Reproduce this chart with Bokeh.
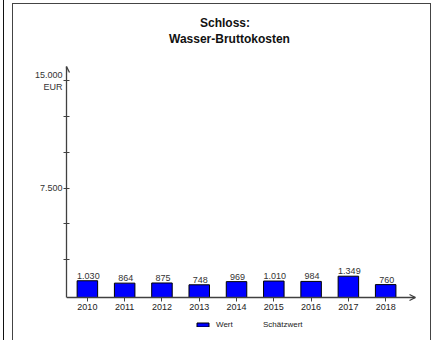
from bokeh.plotting import figure
from bokeh.models import (Range1d, FixedTicker, Legend, LegendItem, Arrow, OpenHead,
                          LabelSet, Label, ColumnDataSource, InlineStyleSheet)
from bokeh.core.properties import value
from bokeh.embed import file_html
from bokeh.resources import INLINE

# ---- data ----
years = [2010, 2011, 2012, 2013, 2014, 2015, 2016, 2017, 2018]
values = [1030, 864, 875, 748, 969, 1010, 984, 1349, 760]
estimates_years = []
estimates_values = []
y_ticks = [2500, 5000, 7500, 10000, 12500, 15000]
y_labels = {7500: "7.500", 15000: "15.000\n\u00a0\u00a0\u00a0EUR"}
title_line1 = "Schloss:"
title_line2 = "Wasser-Bruttokosten"

FONT = "Liberation Sans"
AX = "#404040"

# layout (pixels)
W, H = 435, 340
LEFT, RIGHT = 66, 20
AXIS_TOP_PX, AXIS_BOTTOM_PX = 66, 297      # where 16000 and -140 sit
x0, x1 = 2009.44, 2018.8
ya0, ya1 = -140, 16000
ppu = (AXIS_BOTTOM_PX - AXIS_TOP_PX) / (ya1 - ya0)
r_top = ya1 + AXIS_TOP_PX / ppu
r_bot = ya0 - (H - AXIS_BOTTOM_PX) / ppu
fw = W - LEFT - RIGHT
xppu = fw / (x1 - x0)

def px_to_x(px):
    return x0 + (px - LEFT) / xppu

def px_to_y(py):
    return r_top - py / ppu

p = figure(frame_width=fw, frame_height=H, output_backend="svg", toolbar_location=None,
           title=None, x_range=Range1d(x0, x1), y_range=Range1d(r_bot, r_top),
           min_border_left=LEFT, min_border_right=RIGHT, min_border_top=0,
           min_border_bottom=0)
p.outline_line_color = None
p.xgrid.visible = False
p.ygrid.visible = False
p.background_fill_color = "white"
p.border_fill_color = "white"

# panel frame lines (decoration of the surrounding page)
p.stylesheets = [InlineStyleSheet(css="""
:host { position: relative; }
:host::before { content: ""; position: absolute; left: 12px; top: 3px; width: 419px;
  height: 400px; box-sizing: border-box; border: 1.5px solid #444444;
  pointer-events: none; z-index: 5; }
:host::after { content: ""; position: absolute; left: 3px; top: 0px; width: 0px;
  height: 400px; border-left: 1px solid #111111; pointer-events: none; z-index: 5; }
""")]

# titles
for txt, cx, cy in ((title_line1, 224.5, 22), (title_line2, 229, 38)):
    p.add_layout(Label(x=px_to_x(cx), y=px_to_y(cy), text=txt, text_align="center",
                       text_baseline="middle", text_font=FONT, text_font_size="12px",
                       text_font_style="bold", text_color="#111111"))

# bars
src = ColumnDataSource(dict(x=years, top=values,
                            lab=[f"{v:,}".replace(",", ".") for v in values]))
bars = p.vbar(x="x", top="top", bottom=ya0, width=0.55, source=src,
              fill_color="#0000FF", line_color="black", line_width=1)
est = p.vbar(x=estimates_years, top=estimates_values, width=0.55,
             fill_color="#c8d4ff", line_color="#222222", line_width=1)

labels = LabelSet(x="x", y="top", text="lab", source=src, text_align="center",
                  text_baseline="bottom", y_offset=2, x_offset=1,
                  text_font=value(FONT), text_font_size=value("9px"),
                  text_color="#333333")
p.add_layout(labels)

# axes
xa = p.xaxis[0]
xa.fixed_location = ya0
xa.ticker = FixedTicker(ticks=years)
xa.major_label_overrides = {y: str(y) for y in years}
xa.axis_line_color = AX
xa.axis_line_width = 1.3
xa.major_tick_line_color = AX
xa.major_tick_in = 0
xa.major_tick_out = 4
xa.minor_tick_line_color = None
xa.major_label_text_font = FONT
xa.major_label_text_font_size = "9px"
xa.major_label_text_color = "#222222"
xa.major_label_standoff = 2

ya = p.yaxis[0]
ya.bounds = (ya0, ya1)
ya.ticker = FixedTicker(ticks=y_ticks)
ya.major_label_overrides = {t: y_labels.get(t, "") for t in y_ticks}
ya.axis_line_color = AX
ya.axis_line_width = 1.3
ya.major_tick_line_color = AX
ya.major_tick_in = 3
ya.major_tick_out = 3
ya.minor_tick_line_color = None
ya.major_label_text_font = FONT
ya.major_label_text_font_size = "9px"
ya.major_label_text_color = "#333333"
ya.major_label_standoff = 1

# arrows at axis ends
p.add_layout(Arrow(end=OpenHead(size=6, line_color=AX, line_width=1.3),
                   x_start=x0, y_start=ya1 - 400, x_end=x0, y_end=ya1,
                   line_color=AX, line_width=1.3))
p.add_layout(Arrow(end=OpenHead(size=6, line_color=AX, line_width=1.3),
                   x_start=x1 - 0.1, y_start=ya0, x_end=x1, y_end=ya0,
                   line_color=AX, line_width=1.3))

legend = Legend(items=[LegendItem(label="Wert", renderers=[bars]),
                       LegendItem(label="Schätzwert", renderers=[est])],
                orientation="horizontal", location=(129, 11),
                glyph_width=15, glyph_height=5, label_text_font=FONT,
                label_text_font_size="8px", label_text_color="#222222",
                label_standoff=6, spacing=6, padding=0, margin=0,
                label_height=10,
                border_line_color=None, background_fill_alpha=0)
p.add_layout(legend)

open("out.html", "w").write(file_html(p, INLINE))
